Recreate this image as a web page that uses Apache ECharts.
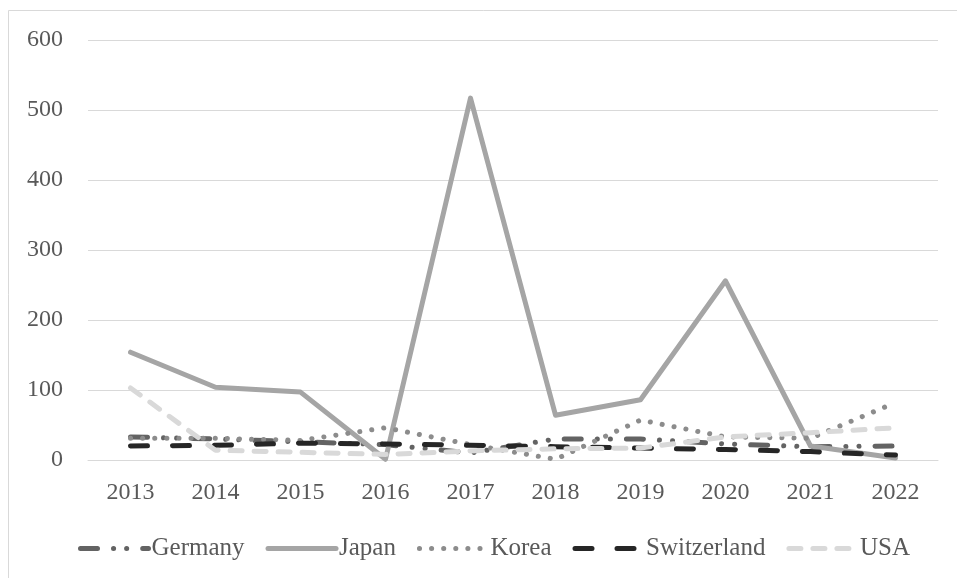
<!DOCTYPE html>
<html>
<head>
<meta charset="utf-8">
<script src="https://cdn.jsdelivr.net/npm/echarts@6/dist/echarts.min.js"></script>
<style>
  html, body { margin: 0; padding: 0; background: #fff; }
  #chart { width: 957px; height: 578px; }
</style>
</head>
<body>
<div id="chart"></div>
<script>
// Annual values per country, 2013–2022
const years = ['2013', '2014', '2015', '2016', '2017', '2018', '2019', '2020', '2021', '2022'];
const germany = [33, 30, 26, 22, 10, 30, 30, 23, 19, 20];
const japan = [154, 104, 97, 1, 517, 64, 86, 256, 20, 3];
const korea = [31, 31, 28, 46, 22, 1, 57, 33, 31, 82];
const switzerland = [20, 21, 24, 23, 21, 19, 17, 15, 12, 7];
const usa = [103, 14, 11, 8, 13, 16, 17, 33, 39, 46];
const yTicks = [0, 100, 200, 300, 400, 500, 600];

const FONT = '"Liberation Serif", "DejaVu Serif", serif';
const TEXT = '#595959';

function lineSeries(name, data, color, dash) {
  return {
    name: name,
    type: 'line',
    data: data,
    symbol: 'none',
    smooth: false,
    lineStyle: {
      color: color,
      width: 5,
      type: dash,
      cap: 'round',
      join: 'round'
    },
    itemStyle: { color: color }
  };
}

const chart = echarts.init(document.getElementById('chart'), null, { renderer: 'canvas' });
chart.setOption({
  animation: false,
  backgroundColor: '#ffffff',
  graphic: [{
    type: 'rect',
    shape: { x: 8.5, y: 10.5, width: 1000, height: 1000 },
    style: { fill: 'none', stroke: '#d9d9d9', lineWidth: 1 },
    silent: true,
    z: -1
  }],
  grid: { left: 88, right: 19, top: 40, bottom: 118 },
  xAxis: {
    type: 'category',
    data: years,
    boundaryGap: true,
    axisLine: { show: true, lineStyle: { color: '#d9d9d9', width: 1 } },
    axisTick: { show: false },
    axisLabel: { color: TEXT, fontFamily: FONT, fontSize: 24, margin: 21 }
  },
  yAxis: {
    type: 'value',
    min: yTicks[0],
    max: yTicks[yTicks.length - 1],
    interval: 100,
    axisLine: { show: false },
    axisTick: { show: false },
    splitLine: { lineStyle: { color: '#d9d9d9', width: 1 } },
    axisLabel: { color: TEXT, fontFamily: FONT, fontSize: 24, margin: 25 }
  },
  legend: {
    bottom: 12,
    left: 73,
    itemWidth: 68,
    itemHeight: 14,
    itemGap: 21,
    itemStyle: { opacity: 0 },
    lineStyle: { width: 5, cap: 'round' },
    textStyle: { color: TEXT, fontFamily: FONT, fontSize: 25, padding: [0, 0, 0, -2] },
    data: ['Germany', 'Japan', 'Korea', 'Switzerland', 'USA']
  },
  series: [
    lineSeries('Germany', germany, '#636363', [17, 16, 0.1, 13, 0.1, 16]),
    lineSeries('Japan', japan, '#a5a5a5', 'solid'),
    lineSeries('Korea', korea, '#8c8c8c', [0.1, 12]),
    lineSeries('Switzerland', switzerland, '#262626', [17, 25]),
    lineSeries('USA', usa, '#d9d9d9', [12, 12])
  ]
});
</script>
</body>
</html>
